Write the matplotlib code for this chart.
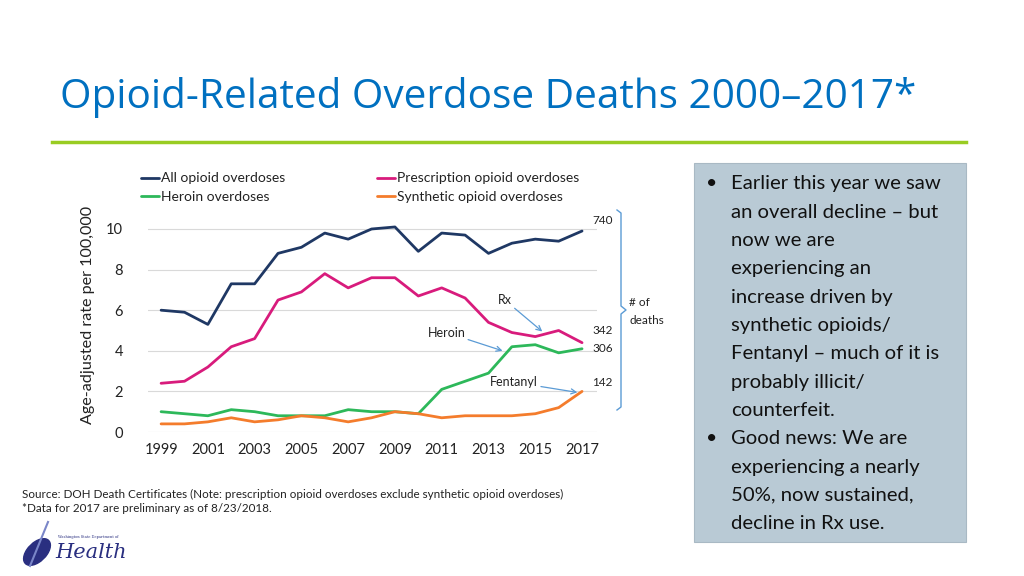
import matplotlib
matplotlib.use('Agg')
import matplotlib.pyplot as plt
from matplotlib.patches import Rectangle, Ellipse
from matplotlib.lines import Line2D

years = list(range(1999, 2018))
all_opioid = [6.0, 5.9, 5.3, 7.3, 7.3, 8.8, 9.1, 9.8, 9.5, 10.0, 10.1, 8.9, 9.8, 9.7, 8.8, 9.3, 9.5, 9.4, 9.9]
rx_opioid = [2.4, 2.5, 3.2, 4.2, 4.6, 6.5, 6.9, 7.8, 7.1, 7.6, 7.6, 6.7, 7.1, 6.6, 5.4, 4.9, 4.7, 5.0, 4.4]
heroin = [1.0, 0.9, 0.8, 1.1, 1.0, 0.8, 0.8, 0.8, 1.1, 1.0, 1.0, 0.9, 2.1, 2.5, 2.9, 4.2, 4.3, 3.9, 4.1]
synthetic = [0.4, 0.4, 0.5, 0.7, 0.5, 0.6, 0.8, 0.7, 0.5, 0.7, 1.0, 0.9, 0.7, 0.8, 0.8, 0.8, 0.9, 1.2, 2.0]

series_names = ['All opioid overdoses', 'Heroin overdoses',
                'Prescription opioid overdoses', 'Synthetic opioid overdoses']
series_colors = ['#1f3864', '#2db85a', '#d81b7c', '#f47c2c']
death_counts = ['740', '342', '306', '142']

xtick_years = list(range(1999, 2018, 2))
yticks = [0, 2, 4, 6, 8, 10]

bullets = [
    ['Earlier this year we saw', 'an overall decline \u2013 but', 'now we are',
     'experiencing an', 'increase driven by', 'synthetic opioids/',
     'Fentanyl \u2013 much of it is', 'probably illicit/', 'counterfeit.'],
    ['Good news: We are', 'experiencing a nearly', '50%, now sustained,',
     'decline in Rx use.'],
]

W, H = 1024, 576
fig = plt.figure(figsize=(W / 100, H / 100), dpi=100)
plt.rcParams['font.family'] = ['Lato', 'DejaVu Sans']


def px(x, y):
    return x / W, 1 - y / H


# title and rule
fig.text(*px(60, 97), 'Opioid-Related Overdose Deaths 2000\u20132017*',
         fontsize=29.2, color='#0070c0', family='Open Sans', va='center', ha='left')
fig.add_artist(Line2D([52 / W, 966 / W], [1 - 142 / H] * 2, color='#99cc22', lw=2.5))

# chart
ax = fig.add_axes([148 / W, 0.25, 449 / W, 10.6 * 20.3 / H])
data = [all_opioid, heroin, rx_opioid, synthetic]
z = [4, 3, 3, 3]
for vals, c, name, zz in zip(data, series_colors, series_names, z):
    ax.plot(years, vals, color=c, lw=2.0, label=name, zorder=zz, solid_capstyle='round')
ax.set_xlim(1998.44, 2017.64)
ax.set_ylim(0, 10.6)
ax.set_yticks(yticks)
ax.set_xticks(xtick_years)
ax.tick_params(length=0, labelsize=10.5, colors='#222222')
ax.tick_params(axis='y', pad=18)
ax.tick_params(axis='x', pad=8)
for y in yticks:
    ax.axhline(y, color='#d9d9d9', lw=0.8, zorder=1)
for s in ax.spines.values():
    s.set_visible(False)
fig.text(*px(88, 315), 'Age-adjusted rate per 100,000', rotation=90,
         fontsize=11.6, va='center', ha='center', color='#222222')

leg = fig.legend(loc='upper left', bbox_to_anchor=(128 / W, 1 - 160 / H), ncol=2,
                 frameon=False, fontsize=10, handlelength=1.3, handletextpad=0.15,
                 columnspacing=6.6, labelspacing=0.45)
for t in leg.get_texts():
    t.set_color('#222222')

# counts
for txt, yy in zip(death_counts, [221, 331, 348, 382]):
    fig.text(*px(592, yy), txt, fontsize=8.5, va='center', ha='left', color='#222222')

# brace
bc = '#5b9bd5'
bx = 617
fig.add_artist(Line2D([bx / W, (bx + 4) / W, (bx + 4) / W, (bx + 9) / W, (bx + 4) / W, (bx + 4) / W, bx / W],
                      [1 - 210 / H, 1 - 213 / H, 1 - 306 / H, 1 - 310 / H, 1 - 314 / H, 1 - 407 / H, 1 - 410 / H],
                      color=bc, lw=1.0))
fig.text(*px(629, 303), '# of', fontsize=8.5, va='center', ha='left', color='#222222')
fig.text(*px(629, 320), 'deaths', fontsize=8.5, va='center', ha='left', color='#222222')

# labels with arrows
arrow = dict(arrowstyle='->', color=bc, lw=0.9, shrinkA=0, shrinkB=0)
ax.annotate('Rx', xy=(2015.3, 4.95), xytext=(2013.7, 6.5), fontsize=9,
            ha='center', va='center', color='#222222',
            arrowprops=arrow)
ax.annotate('Heroin', xy=(2013.6, 4.0), xytext=(2011.2, 4.9), fontsize=9,
            ha='center', va='center', color='#222222',
            arrowprops=arrow)
ax.annotate('Fentanyl', xy=(2016.8, 1.95), xytext=(2014.1, 2.45), fontsize=9,
            ha='center', va='center', color='#222222',
            arrowprops=dict(arrowstyle='->', color=bc, lw=0.9, shrinkA=0, shrinkB=0))

# source notes
fig.text(*px(22, 494), 'Source: DOH Death Certificates (Note: prescription opioid overdoses exclude synthetic opioid overdoses)',
         fontsize=8.4, va='center', ha='left', color='#222222')
fig.text(*px(22, 509), '*Data for 2017 are preliminary as of 8/23/2018.',
         fontsize=8.4, va='center', ha='left', color='#222222')

# logo
fig.add_artist(Ellipse(px(37, 552), 22 / W, 28 / H, angle=-20, color='#2a2f80'))
fig.add_artist(Line2D([30 / W, 48 / W], [1 - 566 / H, 1 - 522 / H], color='#7a86c8', lw=1.5))
fig.text(*px(55, 552), 'Health', fontsize=15, family='DejaVu Serif', style='italic',
         color='#2a2f80', va='center', ha='left')
fig.text(*px(58, 537), 'Washington State Department of', fontsize=2.6, family='DejaVu Serif',
         color='#2a2f80', va='center', ha='left')

# text box
fig.add_artist(Rectangle(px(694, 542), (966 - 694) / W, (542 - 163) / H,
                         facecolor='#b9cad5', edgecolor='#a9b9c4', lw=0.8))
y = 184
for para in bullets:
    fig.text(*px(706, y), '\u2022', fontsize=14, va='center', ha='left', color='#111111')
    for line in para:
        fig.text(*px(731, y), line, fontsize=14.6, va='center', ha='left', color='#111111')
        y += 28.3

fig.savefig('out.png', dpi=100)
